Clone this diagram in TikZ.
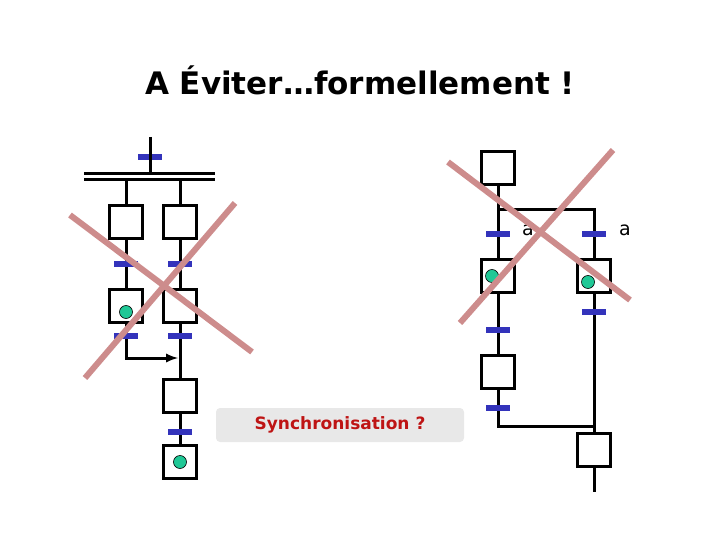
\documentclass[tikz,border=0pt]{standalone}
\usepackage{fontspec}
\setmainfont{DejaVu Sans}
\definecolor{tblue}{RGB}{51,51,187}
\definecolor{xred}{RGB}{205,140,140}
\definecolor{tokc}{RGB}{32,200,150}
\definecolor{syncbg}{RGB}{232,232,232}
\definecolor{synctx}{RGB}{190,20,20}
\begin{document}
\begin{tikzpicture}[x=1pt,y=-1pt,
  stepbox/.style={draw,line width=3pt,minimum width=33pt,minimum height=33pt,inner sep=0pt},
  trans/.style={draw=none,fill=tblue,minimum width=24pt,minimum height=6pt,inner sep=0pt},
  link/.style={line width=3pt},
  crossx/.style={line width=6pt,draw=xred,line cap=butt},
  tok/.style={circle,draw=black,line width=0.6pt,fill=tokc,minimum size=13pt,inner sep=0pt}]
\useasboundingbox (0,0) rectangle (720,540);
\node (title) at (360,80) {\fontsize{31}{36}\selectfont\bfseries A Éviter…formellement !};
% left
\coordinate (top) at (150,137);
\node[trans] (t0) at (150,157) {};
\draw[link] (top) -- (150,175);
\draw[line width=3pt] (84,174) -- (215,174) (84,180) -- (215,180);
\node[stepbox] (s1) at (126,222) {};
\node[stepbox] (s2) at (180,222) {};
\draw[link] (126,180) -- (s1.north) (180,180) -- (s2.north);
\node[stepbox] (s3) at (126,306) {};
\node[stepbox] (s4) at (180,306) {};
\draw[link] (s1) -- (s3) (s2) -- (s4);
\node[trans] (t1) at (126,264) {};
\node[trans] (t2) at (180,264) {};
\node[tok] at (126,312) {};
\node[stepbox] (s5) at (180,396) {};
\node[stepbox] (s6) at (180,462) {};
\draw[link] (s4) -- (s5) (s5) -- (s6);
\coordinate (j) at (178,358);
\draw[link,-latex] (s3.south) |- (j);
\node[trans] (t3) at (126,336) {};
\node[trans] (t4) at (180,336) {};
\node[trans] (t5) at (180,432) {};
\node[tok] at (180,462) {};
\draw[crossx] (70,215) -- (252,352);
\draw[crossx] (85,378) -- (235,203);
\node[fill=syncbg,rounded corners=4pt,minimum width=248pt,minimum height=34pt] (sync) at (340,425) {\fontsize{17}{20}\selectfont\bfseries\color{synctx}Synchronisation ?};
% right
\node[stepbox] (r0) at (498,168) {};
\node[stepbox] (r1) at (498,276) {};
\node[stepbox] (r2) at (498,372) {};
\node[stepbox] (r3) at (594,276) {};
\node[stepbox] (r4) at (594,450) {};
\coordinate (rb) at (594,492);
\draw[link] (r0) -- (r1) -- (r2);
\draw[link] (498,210) -- (594,210) -- (r3);
\draw[link] (r2.south) -- (498,426) -- (594,426);
\draw[link] (r3) -- (r4) -- (rb);
\node[trans] at (498,234) {};
\node[trans] at (594,234) {};
\node[trans] at (498,330) {};
\node[trans] at (498,408) {};
\node[trans] at (594,312) {};
\node at (528,230) {\fontsize{19}{22}\selectfont a};
\node at (625,230) {\fontsize{19}{22}\selectfont a};
\node[tok] at (492,276) {};
\node[tok] at (588,282) {};
\draw[crossx] (448,162) -- (630,300);
\draw[crossx] (460,323) -- (613,150);
\end{tikzpicture}
\end{document}
